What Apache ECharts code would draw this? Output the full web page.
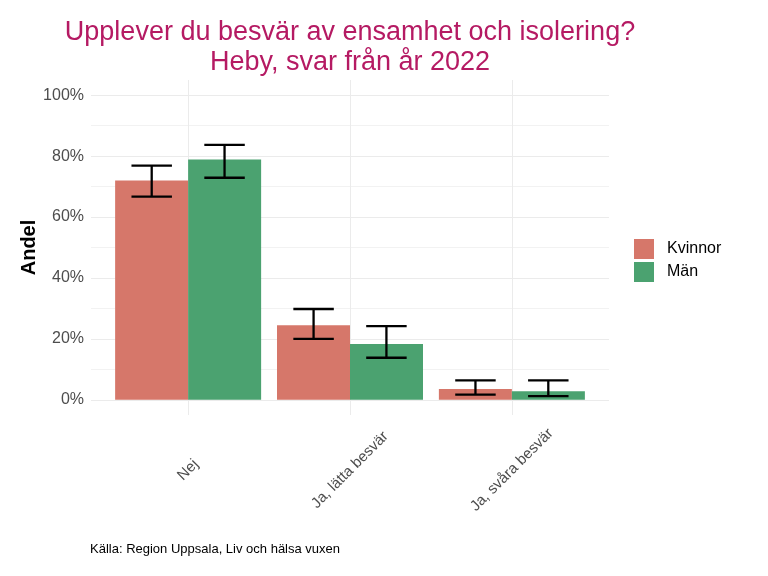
<!DOCTYPE html>
<html>
<head>
<meta charset="utf-8">
<script src="https://cdn.jsdelivr.net/npm/echarts@6/dist/echarts.min.js"></script>
<style>html,body{margin:0;padding:0;background:#fff}#c{width:768px;height:576px}</style>
</head>
<body>
<div id="c"></div>
<script>
const categories = ['Nej', 'Ja, lätta besvär', 'Ja, svåra besvär'];
const seriesNames = ['Kvinnor', 'Män'];
const kvinnor = [72.0, 24.5, 3.5];
const kvinnorLow = [66.7, 20.0, 1.7];
const kvinnorHigh = [76.9, 29.8, 6.4];
const man = [78.9, 18.3, 2.8];
const manLow = [72.9, 13.8, 1.2];
const manHigh = [83.7, 24.2, 6.4];
const yTicks = [0, 20, 40, 60, 80, 100];
const yMinor = [10, 30, 50, 70, 90];
const xPos = [1, 2, 3];
const colors = ['#D6776A', '#4BA270'];

const chart = echarts.init(document.getElementById('c'));
const FONT = "'Liberation Sans', Arial, sans-serif";

function barData(vals) { return vals.map((v, i) => [xPos[i], v]); }
function errData(lo, hi) { return lo.map((v, i) => [xPos[i], v, hi[i]]); }
function errRender(offsetUnits) {
  return function (params, api) {
    const x = api.value(0);
    const lo = api.coord([x, api.value(1)]);
    const hi = api.coord([x, api.value(2)]);
    const off = api.size([Math.abs(offsetUnits), 0])[0];
    const half = api.size([0.125, 0])[0];
    const cx = lo[0] + (offsetUnits < 0 ? -off : off);
    const style = { stroke: '#000', lineWidth: 2.3 };
    return {
      type: 'group',
      children: [
        { type: 'line', shape: { x1: cx, y1: lo[1], x2: cx, y2: hi[1] }, style },
        { type: 'line', shape: { x1: cx - half, y1: lo[1], x2: cx + half, y2: lo[1] }, style },
        { type: 'line', shape: { x1: cx - half, y1: hi[1], x2: cx + half, y2: hi[1] }, style }
      ]
    };
  };
}

const option = {
  animation: false,
  textStyle: { fontFamily: FONT },
  title: [
    {
      text: 'Upplever du besvär av ensamhet och isolering?\nHeby, svar från år 2022',
      left: 350, top: 18, textAlign: 'center', padding: 0,
      textStyle: { fontSize: 27, fontWeight: 'normal', color: '#B51A63', lineHeight: 30, fontFamily: FONT }
    },
    {
      text: 'Källa: Region Uppsala, Liv och hälsa vuxen',
      left: 90, top: 543, padding: 0,
      textStyle: { fontSize: 13, fontWeight: 'normal', color: '#000', fontFamily: FONT }
    }
  ],
  legend: {
    data: seriesNames, orient: 'vertical', left: 634, top: 239, padding: 0,
    icon: 'rect', itemWidth: 20, itemHeight: 20, itemGap: 3,
    textStyle: { fontSize: 16, color: '#000', fontFamily: FONT, padding: [0, 0, 0, 8] }
  },
  grid: { left: 91, right: 159, top: 80, bottom: 161, containLabel: false },
  xAxis: {
    type: 'value', min: 0.4, max: 3.6,
    axisLine: { show: false },
    axisTick: { show: false, customValues: xPos },
    axisLabel: {
      customValues: xPos, rotate: 45, align: 'center', verticalAlign: 'middle', margin: 55,
      fontSize: 15, color: '#4D4D4D', fontFamily: FONT,
      formatter: v => categories[Math.round(v) - 1]
    },
    splitLine: { show: true, lineStyle: { color: '#EBEBEB', width: 1 } }
  },
  yAxis: [
    {
      type: 'value', min: -5, max: 105,
      name: 'Andel', nameLocation: 'middle', nameGap: 52, nameRotate: 90, nameMoveOverlap: false,
      nameTextStyle: { fontSize: 20, fontWeight: 'bold', color: '#000', fontFamily: FONT },
      axisLine: { show: false },
      axisTick: { show: false, customValues: yTicks },
      axisLabel: { customValues: yTicks, formatter: v => v + '%', fontSize: 16, color: '#4D4D4D', margin: 7, fontFamily: FONT },
      splitLine: { show: true, lineStyle: { color: '#EBEBEB', width: 1 } }
    },
    {
      type: 'value', min: -5, max: 105, position: 'left',
      axisLine: { show: false },
      axisTick: { show: false, customValues: yMinor },
      axisLabel: { show: false, customValues: yMinor },
      splitLine: { show: true, lineStyle: { color: '#F2F2F2', width: 1 } }
    }
  ],
  series: [
    { name: 'Kvinnor', type: 'bar', data: barData(kvinnor), barWidth: 73, barGap: '0%', itemStyle: { color: colors[0] }, z: 2 },
    { name: 'Män', type: 'bar', data: barData(man), barWidth: 73, barGap: '0%', itemStyle: { color: colors[1] }, z: 2 },
    { name: 'errK', type: 'custom', data: errData(kvinnorLow, kvinnorHigh), encode: { x: 0, y: [1, 2] }, renderItem: errRender(-0.225), z: 5 },
    { name: 'errM', type: 'custom', data: errData(manLow, manHigh), encode: { x: 0, y: [1, 2] }, renderItem: errRender(0.225), z: 5 }
  ]
};
chart.setOption(option);
</script>
</body>
</html>
